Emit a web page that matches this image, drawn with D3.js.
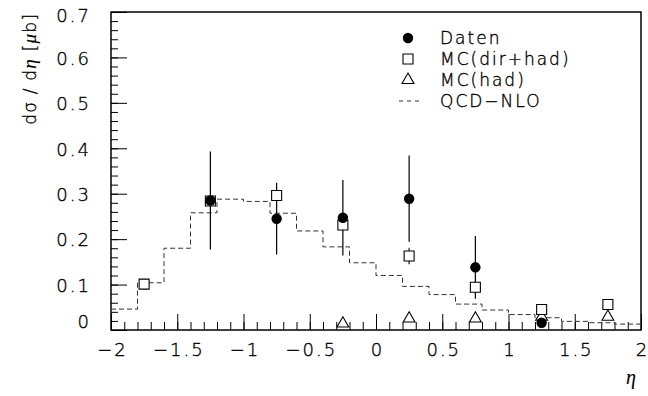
<!DOCTYPE html>
<html>
<head>
<meta charset="utf-8">
<script src="https://cdn.jsdelivr.net/npm/d3@7"></script>
<style>
  body { margin: 0; background: #fff; }
  svg { display: block; }
  text {
    font-family: 'DejaVu Sans', sans-serif;
    font-weight: 200;
    letter-spacing: 2px;
    fill: #000;
    stroke: #000;
    stroke-width: 0.35px;
  }
  .greek {
    font-family: 'Liberation Serif', serif;
    font-style: italic;
    font-weight: 400;
    stroke-width: 0.1px;
  }
</style>
</head>
<body>
<svg width="648" height="396"></svg>
<script>
  // Daten (filled circles)
  const datenEta = [-1.25, -0.75, -0.25, 0.25, 0.75, 1.25];
  const datenVal = [0.285, 0.245, 0.247, 0.289, 0.138, 0.016];
  const datenErr = [0.108, 0.079, 0.083, 0.095, 0.069, 0.010];

  // MC(dir+had) (open squares)
  const mcEta = [-1.75, -1.25, -0.75, -0.25, 0.25, 0.75, 1.25, 1.75];
  const mcDirHad = [0.101, 0.284, 0.296, 0.231, 0.163, 0.094, 0.045, 0.056];
  const mcDirHadErr = [0.010, 0.012, 0.012, 0.012, 0.018, 0.014, 0.010, 0.010];

  // MC(had) (open triangles)
  const mcHadEta = [-0.25, 0.25, 0.75, 1.25, 1.75];
  const mcHad = [0.014, 0.025, 0.025, 0.029, 0.029];

  // QCD-NLO step histogram
  const nloEdges = [-2, -1.8, -1.6, -1.4, -1.2, -1, -0.8, -0.6, -0.4, -0.2, 0,
    0.2, 0.4, 0.6, 0.8, 1, 1.2, 1.4, 1.6, 1.8, 2];
  const nloVal = [0.046, 0.104, 0.180, 0.258, 0.288, 0.283, 0.257, 0.218, 0.183, 0.148,
    0.120, 0.096, 0.078, 0.057, 0.044, 0.034, 0.027, 0.019, 0.016, 0.013];

  const xMajor = [-2, -1.5, -1, -0.5, 0, 0.5, 1, 1.5, 2];
  const yMajor = [0, 0.1, 0.2, 0.3, 0.4, 0.5, 0.6, 0.7];

  const legendLabels = ['Daten', 'MC(dir+had)', 'MC(had)', 'QCD\u2212NLO'];

  const svg = d3.select('svg');
  const margin = { top: 12, right: 7, bottom: 66, left: 111 };
  const width = +svg.attr('width');
  const height = +svg.attr('height');

  const xScale = d3.scaleLinear()
    .domain([-2, 2])
    .range([margin.left, width - margin.right]);

  const yScale = d3.scaleLinear()
    .domain([0, 0.7])
    .range([height - margin.bottom, margin.top]);

  const fmt = d3.format('');

  // minor ticks
  svg.append('g')
      .attr('transform', `translate(0,${yScale(0)})`)
      .call(d3.axisBottom(xScale).tickValues(d3.range(-20, 21).map(i => i / 10))
        .tickSize(-8).tickFormat(''))
      .call(g => g.select('.domain').remove());

  svg.append('g')
      .attr('transform', `translate(${xScale(-2)},0)`)
      .call(d3.axisLeft(yScale).tickValues(d3.range(0, 36).map(i => i / 50))
        .tickSize(-7).tickFormat(''))
      .call(g => g.select('.domain').remove());

  // major ticks + labels
  const xAxisG = svg.append('g')
      .attr('transform', `translate(0,${yScale(0)})`)
      .call(d3.axisBottom(xScale).tickValues(xMajor)
        .tickSize(-16).tickPadding(13).tickFormat(fmt));
  xAxisG.select('.domain').remove();
  xAxisG.selectAll('text')
      .attr('font-size', 18)
      .attr('font-family', null)
      .attr('dx', '1px');

  const yAxisG = svg.append('g')
      .attr('transform', `translate(${xScale(-2)},0)`)
      .call(d3.axisLeft(yScale).tickValues(yMajor)
        .tickSize(-16).tickPadding(20).tickFormat(fmt));
  yAxisG.select('.domain').remove();
  yAxisG.selectAll('text')
      .attr('font-size', 18)
      .attr('font-family', null)
      .attr('dy', d => d === 0 ? '-0.15em' : (d === 0.7 ? '0.5em' : '0.38em'));

  svg.selectAll('.tick line').attr('stroke', '#000');

  // frame
  svg.append('rect')
      .attr('x', xScale(-2))
      .attr('y', yScale(0.7))
      .attr('width', xScale(2) - xScale(-2))
      .attr('height', yScale(0) - yScale(0.7))
      .attr('fill', 'none')
      .attr('stroke', '#000')
      .attr('stroke-width', 1.5);

  // QCD-NLO histogram
  const nloPoints = [];
  nloVal.forEach((v, i) => {
    nloPoints.push([nloEdges[i], v], [nloEdges[i + 1], v]);
  });
  svg.append('path')
      .datum(nloPoints)
      .attr('fill', 'none')
      .attr('stroke', '#333')
      .attr('stroke-width', 1)
      .attr('stroke-dasharray', '5,3')
      .attr('d', d3.line().x(d => xScale(d[0])).y(d => yScale(d[1])));

  // MC(had) triangles
  const triangle = d3.symbol(d3.symbolTriangle).size(60);
  svg.selectAll('.mc-had').data(mcHadEta)
    .enter().append('path')
      .attr('class', 'mc-had')
      .attr('transform', (d, i) => `translate(${xScale(d)},${yScale(mcHad[i])})`)
      .attr('d', triangle)
      .attr('fill', '#fff')
      .attr('stroke', '#000')
      .attr('stroke-width', 1.1);

  // Daten error bars
  svg.selectAll('.daten-err').data(datenEta)
    .enter().append('line')
      .attr('class', 'daten-err')
      .attr('x1', d => xScale(d))
      .attr('x2', d => xScale(d))
      .attr('y1', (d, i) => yScale(datenVal[i] + datenErr[i]))
      .attr('y2', (d, i) => yScale(Math.max(0, datenVal[i] - datenErr[i])))
      .attr('stroke', '#000')
      .attr('stroke-width', 1.2);

  // MC(dir+had) squares
  svg.selectAll('.mc-err').data(mcEta)
    .enter().append('line')
      .attr('class', 'mc-err')
      .attr('x1', d => xScale(d))
      .attr('x2', d => xScale(d))
      .attr('y1', (d, i) => yScale(mcDirHad[i] + mcDirHadErr[i]))
      .attr('y2', (d, i) => yScale(mcDirHad[i] - mcDirHadErr[i]))
      .attr('stroke', '#000')
      .attr('stroke-width', 1.1);

  const square = d3.symbol(d3.symbolSquare).size(100);
  svg.selectAll('.mc-dirhad').data(mcEta)
    .enter().append('path')
      .attr('class', 'mc-dirhad')
      .attr('transform', (d, i) => `translate(${xScale(d)},${yScale(mcDirHad[i])})`)
      .attr('d', square)
      .attr('fill', '#fff')
      .attr('stroke', '#000')
      .attr('stroke-width', 1.1);

  // Daten circles
  svg.selectAll('.daten').data(datenEta)
    .enter().append('circle')
      .attr('class', 'daten')
      .attr('cx', d => xScale(d))
      .attr('cy', (d, i) => yScale(datenVal[i]))
      .attr('r', 5.2)
      .attr('fill', '#000');

  // legend
  const legend = svg.append('g').attr('transform', 'translate(408,0)');
  const rowY = [38, 59, 80, 101];
  legend.append('circle')
      .attr('cy', rowY[0]).attr('r', 5.2).attr('fill', '#000');
  legend.append('path')
      .attr('transform', `translate(0,${rowY[1]})`)
      .attr('d', square)
      .attr('fill', '#fff').attr('stroke', '#000').attr('stroke-width', 1.1);
  legend.append('path')
      .attr('transform', `translate(0,${rowY[2]})`)
      .attr('d', d3.symbol(d3.symbolTriangle).size(62))
      .attr('fill', '#fff').attr('stroke', '#000').attr('stroke-width', 1.1);
  legend.append('line')
      .attr('x1', -9).attr('x2', 12)
      .attr('y1', rowY[3]).attr('y2', rowY[3])
      .attr('stroke', '#333')
      .attr('stroke-dasharray', '4,4');
  legend.selectAll('.legend-label').data(legendLabels)
    .enter().append('text')
      .attr('class', 'legend-label')
      .attr('x', 32)
      .attr('y', (d, i) => rowY[i] + 6)
      .attr('font-size', 17)
      .text(d => d);

  // axis titles
  svg.append('text')
      .attr('class', 'greek')
      .attr('x', 632)
      .attr('y', 384)
      .attr('text-anchor', 'middle')
      .attr('font-size', 20)
      .text('\u03b7');

  const yLabel = svg.append('text')
      .attr('transform', 'translate(36,13) rotate(-90)')
      .attr('text-anchor', 'end')
      .attr('font-size', 17)
      .style('letter-spacing', '1.2px');
  yLabel.append('tspan').text('d\u03c3 / d');
  yLabel.append('tspan').attr('class', 'greek').attr('font-size', 19).text('\u03b7');
  yLabel.append('tspan').text(' [');
  yLabel.append('tspan').attr('class', 'greek').attr('font-size', 19).text('\u03bc');
  yLabel.append('tspan').text('b]');
</script>
</body>
</html>
